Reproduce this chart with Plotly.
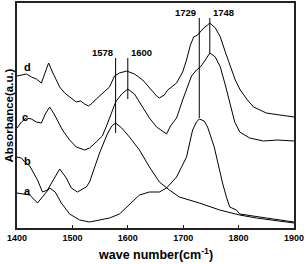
import plotly.graph_objects as go

# ---- data (absorbance in arbitrary units) ----
a_wn = [1400,1423,1437,1448,1459,1469,1480,1495,1513,1531,1567,1585,1598,1621,1639,1657,1670,1688,1706,1717,1724,1729,1738,1744,1756,1766,1771,1778,1784,1796,1802,1850,1900]
a_abs = [35,33,25,32,40,36,25,14,8,6,10,14,21,33,36,36,40,51,71,98,106,109,107,101,81,55,45,31,21,18,14,10,6]

b_wn = [1400,1408,1414,1423,1437,1446,1455,1468,1477,1489,1498,1509,1525,1531,1549,1563,1571,1578,1589,1603,1621,1639,1657,1675,1693,1729,1766,1802,1832,1900]
b_abs = [71,70,66,62,48,36,38,51,59,50,40,36,41,46,75,94,102,105,100,91,78,61,46,38,31,25,18,13,10,5]

c_wn = [1400,1408,1417,1426,1435,1444,1451,1459,1468,1482,1495,1507,1522,1531,1543,1554,1563,1571,1578,1589,1600,1612,1627,1639,1652,1670,1677,1688,1699,1706,1715,1724,1731,1740,1748,1758,1767,1776,1785,1793,1802,1820,1845,1870,1900]
c_abs = [100,106,110,109,106,105,114,121,113,98,88,81,78,80,86,92,104,116,126,134,139,134,121,110,101,94,102,110,128,138,152,158,161,168,175,171,161,143,123,106,96,90,87,88,87]

d_wn = [1400,1408,1417,1426,1435,1444,1450,1457,1464,1477,1486,1495,1507,1515,1522,1529,1536,1543,1549,1558,1567,1576,1585,1598,1612,1627,1639,1652,1657,1666,1672,1677,1688,1699,1706,1713,1719,1726,1731,1737,1744,1748,1758,1767,1776,1785,1794,1803,1816,1827,1838,1850,1862,1874,1886,1900]
d_abs = [152,153,154,151,149,145,154,165,156,141,135,131,126,127,124,122,125,129,132,136,141,152,155,157,154,148,140,132,130,133,138,140,145,156,168,183,191,193,196,200,203,205,200,191,176,161,148,138,128,121,118,115,114,113,112,111]

curve_names = ["a", "b", "c", "d"]
label_wn = [1419, 1419, 1414, 1419]
label_abs = [37, 67, 111, 161]

peak_labels = ["1578", "1600", "1729", "1748"]
peak_wn = [1578, 1600, 1729, 1748]
peak_top = [170, 170, 210, 210]
peak_bottom = [95, 129, 110, 175]
peak_side = ["right", "left", "right", "left"]

x_ticks = [1400, 1500, 1600, 1700, 1800, 1900]

FONT = "Liberation Sans"

fig = go.Figure()
for wn, ab in [(a_wn, a_abs), (b_wn, b_abs), (c_wn, c_abs), (d_wn, d_abs)]:
    fig.add_trace(go.Scatter(x=wn, y=ab, mode="lines",
                             line=dict(color="black", width=1), showlegend=False,
                             hoverinfo="skip"))

for wn, top, bot, lab, side in zip(peak_wn, peak_top, peak_bottom, peak_labels, peak_side):
    fig.add_shape(type="line", xref="x", yref="y", x0=wn, x1=wn, y0=bot, y1=top,
                  line=dict(color="black", width=1))
    fig.add_annotation(x=wn, y=top, xref="x", yref="y", text="<b>%s</b>" % lab,
                       showarrow=False, xanchor=side, yanchor="bottom",
                       font=dict(family=FONT, size=9.5, color="black"),
                       xshift=(1 if side == "left" else -1), yshift=-2)

for n, wn, ab in zip(curve_names, label_wn, label_abs):
    fig.add_annotation(x=wn, y=ab, xref="x", yref="y", text="<b>%s</b>" % n,
                       showarrow=False, xanchor="center", yanchor="middle",
                       font=dict(family=FONT, size=11, color="black"))

# axis titles as paper-anchored annotations
fig.add_annotation(x=0.5, y=0, xref="paper", yref="paper", yanchor="top", xanchor="center",
                   yshift=-16, showarrow=False,
                   text="<b>wave number(cm<sup>-1</sup>)</b>",
                   font=dict(family=FONT, size=12.5, color="black"))
fig.add_annotation(x=0, y=0.5, xref="paper", yref="paper", xanchor="center", yanchor="middle",
                   xshift=-9, showarrow=False, textangle=-90,
                   text="<b>Absorbance(a.u.)</b>",
                   font=dict(family=FONT, size=11.5, color="black"))

fig.update_layout(
    width=308, height=264,
    margin=dict(l=17, r=14, t=3, b=36),
    paper_bgcolor="white", plot_bgcolor="white",
    font=dict(family=FONT, color="black"),
    xaxis=dict(range=[1400, 1900], tickvals=x_ticks, automargin=False,
               ticktext=["<b>%d</b>" % t for t in x_ticks],
               ticks="inside", ticklen=3, tickwidth=1, tickcolor="#222",
               showline=True, linecolor="#222", linewidth=1.5, mirror=True,
               showgrid=False, zeroline=False,
               tickfont=dict(family=FONT, size=9, color="black")),
    yaxis=dict(range=[0, 225], showticklabels=False, ticks="", automargin=False,
               showline=True, linecolor="#222", linewidth=1.5, mirror=True,
               showgrid=False, zeroline=False),
)

fig.write_html("out.html", config={"displayModeBar": False},
               post_script="document.body.style.margin='0px';")
